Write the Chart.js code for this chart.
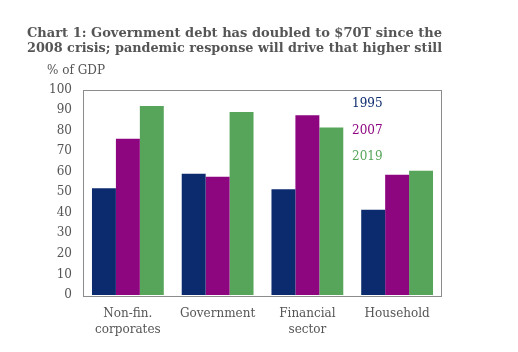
<!DOCTYPE html>
<html><head><meta charset="utf-8">
<script src="https://cdn.jsdelivr.net/npm/chart.js@4"></script>
<style>html,body{margin:0;padding:0;background:#fff}canvas{display:block}</style>
</head><body>
<canvas id="c" width="518" height="352" style="width:518px;height:352px"></canvas>
<script>
const titleLines = ['Chart 1: Government debt has doubled to $70T since the', '2008 crisis; pandemic response will drive that higher still'];
const yAxisTitle = '% of GDP';
const categories = [['Non-fin.', 'corporates'], 'Government', ['Financial', 'sector'], 'Household'];
const seriesNames = ['1995', '2007', '2019'];
const values1995 = [52, 59, 51.5, 41.5];
const values2007 = [76, 57.5, 87.5, 58.5];
const values2019 = [92, 89, 81.5, 60.5];
const seriesColors = ['#0b2b6e', '#8e0580', '#56a55a'];

const SERIF = "'DejaVu Serif', serif";
const TEXT = '#555555';

const extras = {
  id: 'extras',
  afterDatasetsDraw(chart) {
    const {ctx, chartArea: a} = chart;
    ctx.save();
    ctx.strokeStyle = '#8c8c8c';
    ctx.lineWidth = 1;
    ctx.strokeRect(Math.round(a.left) + 0.5, Math.round(a.top) + 0.5, Math.round(a.right - a.left) - 1, Math.round(a.bottom - a.top));
    ctx.font = '12px ' + SERIF;
    ctx.textBaseline = 'middle';
    ctx.textAlign = 'left';
    ctx.fillStyle = TEXT;
    ctx.fillText(yAxisTitle, 47, 71);
    chart.data.datasets.forEach((ds, i) => {
      ctx.fillStyle = ds.backgroundColor;
      ctx.fillText(ds.label, 352, 104 + i * 26.5);
    });
    ctx.restore();
  }
};

new Chart(document.getElementById('c'), {
  type: 'bar',
  data: {
    labels: categories,
    datasets: [values1995, values2007, values2019].map((v, i) => ({
      label: seriesNames[i], data: v, backgroundColor: seriesColors[i], borderWidth: 0
    }))
  },
  options: {
    responsive: false,
    animation: false,
    devicePixelRatio: 1,
    layout: {padding: {left: 27, right: 76, top: 0, bottom: 0}},
    datasets: {bar: {categoryPercentage: 0.8, barPercentage: 1}},
    plugins: {
      legend: {display: false},
      tooltip: {enabled: false},
      title: {
        display: true, text: titleLines, align: 'start', color: TEXT,
        font: {family: SERIF, size: 13.3, weight: 'bold', lineHeight: 15 / 13.3},
        padding: {top: 26, bottom: 33.5}
      }
    },
    scales: {
      x: {
        grid: {display: false, drawTicks: false},
        border: {display: false},
        ticks: {color: TEXT, font: {family: SERIF, size: 12, lineHeight: 1.33}, padding: 11, maxRotation: 0},
        afterFit(s) { s.height = 57; }
      },
      y: {
        min: 0, max: 100,
        grid: {display: false, drawTicks: false},
        border: {display: false},
        ticks: {stepSize: 10, color: TEXT, font: {family: SERIF, size: 12}, padding: 11},
        afterFit(s) { s.width = 56; }
      }
    }
  },
  plugins: [extras]
});
</script>
</body></html>
